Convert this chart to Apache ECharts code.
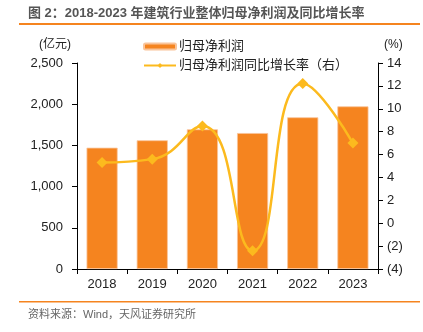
<!DOCTYPE html>
<html><head><meta charset="utf-8">
<script src="https://cdn.jsdelivr.net/npm/echarts@6/dist/echarts.min.js"></script>
<style>html,body{margin:0;padding:0;background:#fff}#c{width:423px;height:332px}</style>
</head><body><div id="c"></div>
<script>
const categories = ['2018','2019','2020','2021','2022','2023'];
const profit = [1472, 1562, 1695, 1650, 1841, 1974];
const growth = [5.3, 5.6, 8.5, -2.4, 12.2, 7.0];

const chart = echarts.init(document.getElementById('c'));
const ff = '"Liberation Sans", Arial, "Noto Sans CJK SC", sans-serif';
chart.setOption({
  animation: false,
  textStyle: { fontFamily: ff },
  grid: { left: 77, right: 45, top: 63, bottom: 63 },
  title: [
    { text: '图 2：2018-2023 年建筑行业整体归母净利润及同比增长率', left: 23, top: 2,
      textStyle: { fontSize: 13, fontWeight: 'bold', color: '#555', fontFamily: ff } },
    { text: '资料来源：Wind，天风证券研究所', left: 23, top: 304,
      textStyle: { fontSize: 11, fontWeight: 'normal', color: '#666', fontFamily: ff } }
  ],
  graphic: {
    elements: [
      { type: 'rect', left: 19, top: 23, shape: { width: 401, height: 2 }, style: { fill: '#F5841F' } },
      { type: 'rect', left: 19, top: 301, shape: { width: 401, height: 1.5 }, style: { fill: '#F5841F' } }
    ]
  },
  legend: {
    orient: 'vertical', left: 138, top: 35, itemGap: 6, itemWidth: 32, itemHeight: 6,
    textStyle: { fontSize: 13, color: '#222', fontFamily: ff, padding: [0, 0, 0, -2] },
    data: ['归母净利润', '归母净利润同比增长率（右）']
  },
  xAxis: {
    type: 'category', data: categories,
    axisLine: { lineStyle: { color: '#000' } },
    axisTick: { show: true, length: 5, lineStyle: { color: '#000' } },
    axisLabel: { fontSize: 13, color: '#222', margin: 9 }
  },
  yAxis: [
    { type: 'value', min: 0, max: 2500, interval: 500, name: '(亿元)', nameGap: 12,
      nameTextStyle: { fontSize: 12, color: '#222', align: 'right', padding: [0, 6, 0, 0] },
      axisLine: { show: true, lineStyle: { color: '#000' } }, axisTick: { show: true, length: 5, lineStyle: { color: '#000' } },
      splitLine: { show: false }, axisLabel: { fontSize: 13, color: '#222', margin: 14, formatter: v => v.toLocaleString('en-US') } },
    { type: 'value', min: -4, max: 14, interval: 2, name: '(%)', nameGap: 12,
      nameTextStyle: { fontSize: 12, color: '#222', align: 'left', padding: [0, 0, 0, 6] },
      axisLine: { show: true, lineStyle: { color: '#000' } }, axisTick: { show: true, length: 5, lineStyle: { color: '#000' } },
      splitLine: { show: false }, axisLabel: { fontSize: 13, color: '#222', margin: 9, formatter: v => v < 0 ? '(' + Math.abs(v) + ')' : String(v) } }
  ],
  series: [
    { name: '归母净利润', type: 'bar', data: profit, barWidth: '62%', itemStyle: { color: '#F5841F', borderColor: '#F9C49A', borderWidth: 0.8 } },
    { name: '归母净利润同比增长率（右）', type: 'line', yAxisIndex: 1, data: growth, smooth: 0.5, symbol: 'diamond', symbolSize: 11,
      lineStyle: { color: '#FCBA1E', width: 2.5 }, itemStyle: { color: '#FCBA1E' } }
  ]
});
</script></body></html>
